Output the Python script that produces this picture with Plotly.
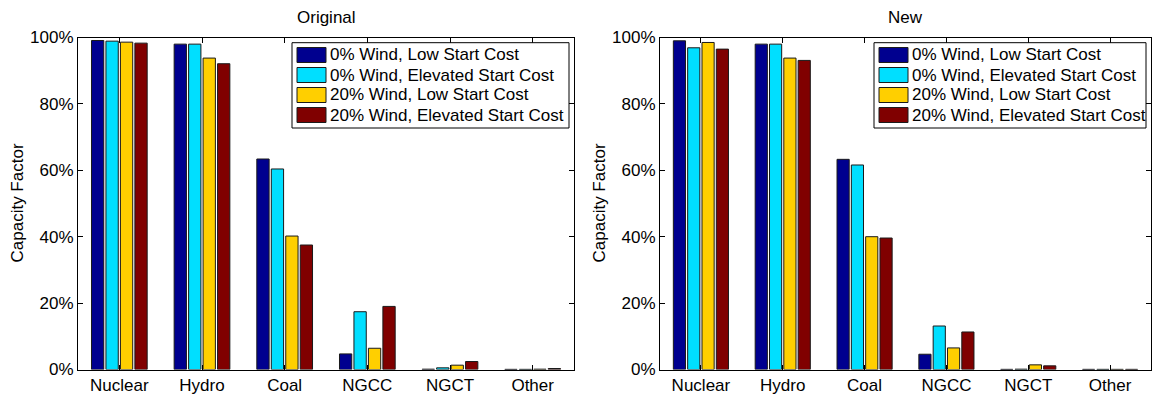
import plotly.graph_objects as go

W, H = 1156, 395

categories = ["Nuclear", "Hydro", "Coal", "NGCC", "NGCT", "Other"]
series_names = [
    "0% Wind, Low Start Cost",
    "0% Wind, Elevated Start Cost",
    "20% Wind, Low Start Cost",
    "20% Wind, Elevated Start Cost",
]
colors = ["#00008F", "#00DFFF", "#FFCF00", "#800000"]

# capacity factors (%) per series, "Original" model
original_low_0 = [99.1, 98.0, 63.4, 4.7, 0.1, 0.05]
original_elev_0 = [98.9, 98.0, 60.4, 17.4, 0.5, 0.05]
original_low_20 = [98.6, 93.8, 40.2, 6.4, 1.3, 0.1]
original_elev_20 = [98.3, 92.1, 37.5, 19.0, 2.4, 0.3]

# capacity factors (%) per series, "New" model
new_low_0 = [99.0, 98.0, 63.3, 4.6, 0.05, 0.05]
new_elev_0 = [96.9, 98.0, 61.6, 13.1, 0.1, 0.05]
new_low_20 = [98.5, 93.8, 40.0, 6.5, 1.4, 0.05]
new_elev_20 = [96.5, 93.1, 39.6, 11.3, 1.1, 0.05]

y_ticks = [0, 20, 40, 60, 80, 100]
y_tick_labels = ["0%", "20%", "40%", "60%", "80%", "100%"]

panels = [
    ("Original", [original_low_0, original_elev_0, original_low_20, original_elev_20]),
    ("New", [new_low_0, new_elev_0, new_low_20, new_elev_20]),
]

# axes boxes in pixels: (left, right)
ax_px = [(78, 574), (660, 1151)]
top_px, bot_px = 37.5, 369.5

FONT = "Liberation Sans, Arial, Helvetica, sans-serif"
FS = 17


def px_x(x):
    return x / W


def px_y(y):
    return 1 - y / H


fig = go.Figure()

for p, (title, data) in enumerate(panels):
    xa = "x" if p == 0 else "x2"
    ya = "y" if p == 0 else "y2"
    for name, vals, col in zip(series_names, data, colors):
        fig.add_trace(go.Bar(
            x=categories, y=vals, name=name, xaxis=xa, yaxis=ya,
            marker=dict(color=col, line=dict(color="#1a1a1a", width=1)),
            showlegend=False, hoverinfo="x+y+name",
        ))

axis_common = dict(
    showline=True, linecolor="black", linewidth=1, mirror="ticks",
    ticks="inside", ticklen=5, tickcolor="black", tickwidth=1,
    showgrid=False, zeroline=False,
    tickfont=dict(family=FONT, size=FS, color="black"),
    automargin=False,
)

layout = dict(
    width=W, height=H,
    margin=dict(l=0, r=0, t=0, b=0),
    paper_bgcolor="white", plot_bgcolor="white",
    barmode="group", bargap=0.30, bargroupgap=0.15,
    font=dict(family=FONT, size=FS, color="black"),
    showlegend=False,
)

shapes = []
annotations = []

for p, (title, data) in enumerate(panels):
    l, r = ax_px[p]
    sfx = "" if p == 0 else "2"
    layout["xaxis" + sfx] = dict(
        axis_common, type="category", range=[-0.5, 5.5],
        domain=[px_x(l), px_x(r)], anchor="y" + sfx,
        categoryorder="array", categoryarray=categories,
        ticklabelstandoff=0,
    )
    layout["yaxis" + sfx] = dict(
        axis_common, range=[0, 100], domain=[px_y(bot_px), px_y(top_px)],
        anchor="x" + sfx, tickvals=y_ticks, ticktext=y_tick_labels,
        ticklabelstandoff=0,
    )
    # panel title
    annotations.append(dict(
        text=title, x=px_x((l + r) / 2), y=px_y(17), xref="paper", yref="paper",
        showarrow=False, xanchor="center", yanchor="middle",
        font=dict(family=FONT, size=FS, color="black"),
    ))
    # y-axis title
    annotations.append(dict(
        text="Capacity Factor", x=px_x(l - 61), y=px_y((top_px + bot_px) / 2),
        xref="paper", yref="paper", showarrow=False, textangle=-90,
        xanchor="center", yanchor="middle",
        font=dict(family=FONT, size=FS, color="black"),
    ))
    # legend box
    lg_r = r - 5
    lg_l = l + 214
    lg_t, lg_b = 42.7, 128.0
    shapes.append(dict(
        type="rect", xref="paper", yref="paper",
        x0=px_x(lg_l), x1=px_x(lg_r), y0=px_y(lg_b), y1=px_y(lg_t),
        line=dict(color="black", width=1), fillcolor="white", layer="above",
    ))
    for i, (name, col) in enumerate(zip(series_names, colors)):
        st = 47.5 + 20 * i
        shapes.append(dict(
            type="rect", xref="paper", yref="paper",
            x0=px_x(lg_l + 5), x1=px_x(lg_l + 34), y0=px_y(st + 15), y1=px_y(st),
            line=dict(color="#1a1a1a", width=1), fillcolor=col, layer="above",
        ))
        annotations.append(dict(
            text=name, x=px_x(lg_l + 36), y=px_y(st + 7.5),
            xref="paper", yref="paper", showarrow=False,
            xanchor="left", yanchor="middle",
            font=dict(family=FONT, size=FS, color="black"),
        ))

layout["shapes"] = shapes
layout["annotations"] = annotations
fig.update_layout(**layout)

fig.write_html("out.html")
